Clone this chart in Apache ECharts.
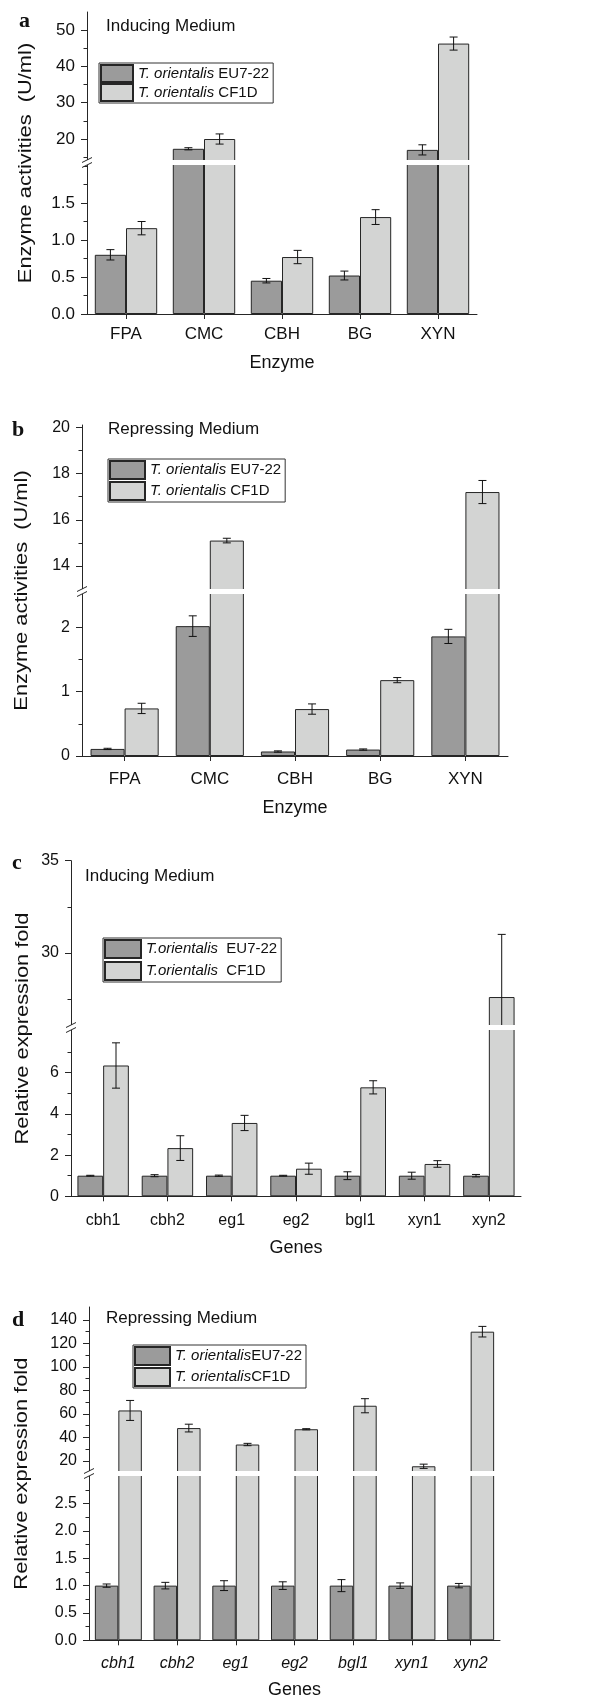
<!DOCTYPE html>
<html><head><meta charset="utf-8">
<script src="https://cdn.jsdelivr.net/npm/echarts@6/dist/echarts.min.js"></script>
<style>html,body{margin:0;padding:0;background:#fff}#chart{width:606px;height:1700px}</style>
</head><body><div id="chart"></div>
<script>
// ---------- DATA ----------
const enzymes = ['FPA', 'CMC', 'CBH', 'BG', 'XYN'];
const genes = ['cbh1', 'cbh2', 'eg1', 'eg2', 'bgl1', 'xyn1', 'xyn2'];

// a: Inducing medium, enzyme activities (U/ml)
const aEU = [0.80, 17.3, 0.45, 0.52, 17.0];
const aEUerr = [0.07, 0.3, 0.03, 0.06, 1.4];
const aCF = [1.16, 20.0, 0.77, 1.31, 46.3];
const aCFerr = [0.09, 1.4, 0.09, 0.10, 1.8];
// b: Repressing medium, enzyme activities (U/ml)
const bEU = [0.11, 2.02, 0.07, 0.10, 1.86];
const bEUerr = [0.01, 0.16, 0.01, 0.01, 0.11];
const bCF = [0.74, 15.1, 0.73, 1.18, 17.2];
const bCFerr = [0.08, 0.1, 0.08, 0.04, 0.5];
// c: Inducing medium, relative expression fold
const cEU = [1.0, 1.0, 1.0, 1.0, 1.0, 1.0, 1.0];
const cEUerr = [0.02, 0.05, 0.03, 0.02, 0.19, 0.17, 0.06];
const cCF = [6.35, 2.34, 3.56, 1.34, 5.29, 1.57, 27.6];
const cCFerr = [1.1, 0.6, 0.37, 0.27, 0.32, 0.16, 3.4];
// d: Repressing medium, relative expression fold
const dEU = [1.0, 1.0, 1.0, 1.0, 1.0, 1.0, 1.0];
const dEUerr = [0.03, 0.06, 0.09, 0.07, 0.11, 0.05, 0.04];
const dCF = [63, 48, 34, 47, 67, 15.5, 130];
const dCFerr = [8.5, 3.3, 1.0, 0.5, 6.0, 1.8, 4.5];

// tick values (upper / lower segment of each broken axis)
const aUpTicks = [20, 30, 40, 50], aUpMinor = [15, 25, 35, 45];
const aLoTicks = [0, 0.5, 1.0, 1.5], aLoMinor = [0.25, 0.75, 1.25, 1.75, 2.0];
const bUpTicks = [14, 16, 18, 20], bUpMinor = [15, 17, 19];
const bLoTicks = [0, 1, 2], bLoMinor = [0.5, 1.5];
const cUpTicks = [30, 35], cUpMinor = [27.5, 32.5];
const cLoTicks = [0, 2, 4, 6], cLoMinor = [1, 3, 5, 7];
const dUpTicks = [20, 40, 60, 80, 100, 120, 140], dUpMinor = [30, 50, 70, 90, 110, 130];
const dLoTicks = [0, 0.5, 1.0, 1.5, 2.0, 2.5], dLoMinor = [0.25, 0.75, 1.25, 1.75, 2.25, 2.75];

// ---------- LAYOUT ----------
const FONT = '"Liberation Sans", Arial, sans-serif';
const SERIF = '"Liberation Serif", "Times New Roman", serif';
const DARK = '#9b9b9b', LIGHT = '#d3d4d3', EDGE = '#262626', INK = '#111';

const panels = [
  { cats: enzymes, italicCats: false,
    series: [{ name: 'T. orientalis EU7-22', v: aEU, e: aEUerr }, { name: 'T. orientalis CF1D', v: aCF, e: aCFerr }],
    up: { ticks: aUpTicks, minor: aUpMinor, dec: 0, top: 12, bottom: 161.5, min: 13.8, max: 55 },
    lo: { ticks: aLoTicks, minor: aLoMinor, dec: 1, top: 163.5, bottom: 314, min: 0, max: 2.034 },
    left: 87, right: 477, tickFont: 17, catFont: 17, catMargin: 12, xname: 'Enzyme', xnameGap: 40,
    yname: 'Enzyme activities  (U/ml)', ynameX: 25.5,
    letter: 'a', letterX: 19, letterY: 21.5, title: 'Inducing Medium', titleX: 106, titleY: 26,
    legend: { left: 99, top: 63, itemWidth: 32, itemHeight: 17, itemGap: 0 } },
  { cats: enzymes, italicCats: false,
    series: [{ name: 'T. orientalis EU7-22', v: bEU, e: bEUerr }, { name: 'T. orientalis CF1D', v: bCF, e: bCFerr }],
    up: { ticks: bUpTicks, minor: bUpMinor, dec: 0, top: 425, bottom: 590.5, min: 12.94, max: 20.1 },
    lo: { ticks: bLoTicks, minor: bLoMinor, dec: 0, top: 592.5, bottom: 756, min: 0, max: 2.543 },
    left: 82, right: 508, tickFont: 16, catFont: 17, catMargin: 15, xname: 'Enzyme', xnameGap: 43,
    yname: 'Enzyme activities  (U/ml)', ynameX: 22,
    letter: 'b', letterX: 12, letterY: 430.5, title: 'Repressing Medium', titleX: 108, titleY: 429,
    legend: { left: 108, top: 459, itemWidth: 35, itemHeight: 18, itemGap: 1 } },
  { cats: genes, italicCats: false,
    series: [{ name: 'T.orientalis  EU7-22', v: cEU, e: cEUerr }, { name: 'T.orientalis  CF1D', v: cCF, e: cCFerr }],
    up: { ticks: cUpTicks, minor: cUpMinor, dec: 0, top: 860.7, bottom: 1026.5, min: 26, max: 35 },
    lo: { ticks: cLoTicks, minor: cLoMinor, dec: 0, top: 1028.5, bottom: 1196.3, min: 0, max: 8.146 },
    left: 71, right: 521, tickFont: 16, catFont: 16, catMargin: 16, xname: 'Genes', xnameGap: 43,
    yname: 'Relative expression fold', ynameX: 23,
    letter: 'c', letterX: 12, letterY: 863.5, title: 'Inducing Medium', titleX: 85, titleY: 876,
    legend: { left: 103, top: 938, itemWidth: 36, itemHeight: 18, itemGap: 2 } },
  { cats: genes, italicCats: true,
    series: [{ name: 'T. orientalisEU7-22', v: dEU, e: dEUerr }, { name: 'T. orientalisCF1D', v: dCF, e: dCFerr }],
    up: { ticks: dUpTicks, minor: dUpMinor, dec: 0, top: 1307, bottom: 1472.5, min: 10.2, max: 151 },
    lo: { ticks: dLoTicks, minor: dLoMinor, dec: 1, top: 1474.5, bottom: 1640.3, min: 0, max: 3.033 },
    left: 89, right: 500, tickFont: 16, catFont: 16, catMargin: 15, xname: 'Genes', xnameGap: 41,
    yname: 'Relative expression fold', ynameX: 21.5,
    letter: 'd', letterX: 12, letterY: 1320.5, title: 'Repressing Medium', titleX: 106, titleY: 1318,
    legend: { left: 133, top: 1345, itemWidth: 35, itemHeight: 18, itemGap: 1 } }
];

function errRender(side) {
  return function (params, api) {
    const i = api.value(0), v = api.value(1), e = api.value(2);
    const band = api.size([1, 0])[0];
    const cx = api.coord([i, v])[0] + side * 0.2 * band;
    const yt = api.coord([i, v + e])[1], yb = api.coord([i, v - e])[1];
    const w = 4, st = { stroke: INK, lineWidth: 1 };
    return { type: 'group', children: [
      { type: 'line', shape: { x1: cx, y1: yt, x2: cx, y2: yb }, style: st },
      { type: 'line', shape: { x1: cx - w, y1: yt, x2: cx + w, y2: yt }, style: st },
      { type: 'line', shape: { x1: cx - w, y1: yb, x2: cx + w, y2: yb }, style: st }
    ] };
  };
}

function legendFmt(name) {
  const k = name.indexOf('orientalis') + 10;
  return '{i|' + name.slice(0, k) + '}{n|' + name.slice(k) + '}';
}

function txt(x, y, text, extra) {
  return Object.assign({ type: 'text', x: x, y: y, z: 200,
    style: Object.assign({ text: text, fill: INK, fontFamily: FONT, fontSize: 17,
      align: 'left', verticalAlign: 'middle', textAlign: 'left', textVerticalAlign: 'middle' }, extra && extra.style) },
    extra && extra.el);
}

const option = { animation: false, backgroundColor: '#fff', grid: [], xAxis: [], yAxis: [], series: [], legend: [], graphic: [] };

panels.forEach(function (p) {
  [['up', p.up], ['lo', p.lo]].forEach(function (pair) {
    const isLo = pair[0] === 'lo', seg = pair[1];
    const g = option.grid.length;
    option.grid.push({ left: p.left, width: p.right - p.left, top: seg.top, height: seg.bottom - seg.top,
      containLabel: false, outerBoundsMode: 'none' });
    option.xAxis.push({ type: 'category', gridIndex: g, data: p.cats, show: isLo, boundaryGap: true,
      axisLine: { show: true, onZero: false, lineStyle: { color: EDGE, width: 1 } },
      axisTick: { show: true, alignWithLabel: true, interval: 0, length: 5, lineStyle: { color: EDGE } },
      axisLabel: { show: true, interval: 0, margin: p.catMargin, fontSize: p.catFont, fontFamily: FONT, color: INK,
        fontStyle: p.italicCats ? 'italic' : 'normal' },
      splitLine: { show: false },
      name: isLo ? p.xname : '', nameLocation: 'middle', nameGap: p.xnameGap,
      nameTextStyle: { fontSize: 18, fontFamily: FONT, color: INK } });
    const yMaj = option.yAxis.length;
    option.yAxis.push({ type: 'value', gridIndex: g, min: seg.min, max: seg.max, position: 'left',
      axisLine: { show: true, onZero: false, lineStyle: { color: EDGE, width: 1 } },
      axisTick: { show: true, length: 6, customValues: seg.ticks, lineStyle: { color: EDGE } },
      axisLabel: { show: true, customValues: seg.ticks, margin: 12, fontSize: p.tickFont, fontFamily: FONT, color: INK,
        formatter: function (v) { return Number(v).toFixed(seg.dec); } },
      splitLine: { show: false } });
    option.yAxis.push({ type: 'value', gridIndex: g, min: seg.min, max: seg.max, position: 'left',
      axisLine: { show: false }, axisLabel: { show: false }, splitLine: { show: false },
      axisTick: { show: true, length: 3.5, customValues: seg.minor, lineStyle: { color: EDGE } } });
    p.series.forEach(function (s, k) {
      option.series.push({ type: 'bar', name: s.name, xAxisIndex: g, yAxisIndex: yMaj, data: s.v,
        barGap: '0%', barCategoryGap: '20%', clip: true,
        itemStyle: { color: k ? LIGHT : DARK, borderColor: EDGE, borderWidth: 1 } });
    });
    p.series.forEach(function (s, k) {
      option.series.push({ type: 'custom', name: s.name + ' error', xAxisIndex: g, yAxisIndex: yMaj, clip: true, z: 3,
        renderItem: errRender(k ? 1 : -1),
        data: s.v.map(function (v, i) { return [i, v, s.e[i]]; }) });
    });
  });

  option.legend.push(Object.assign({ data: p.series.map(function (s) { return s.name; }),
    orient: 'vertical', icon: 'rect', padding: [1, 4, 1, 1], borderColor: '#333', borderWidth: 1, borderRadius: 0,
    selectedMode: false, formatter: legendFmt,
    textStyle: { fontFamily: FONT, fontSize: 15, color: INK,
      rich: { i: { fontStyle: 'italic', fontFamily: FONT, fontSize: 15, color: INK },
              n: { fontFamily: FONT, fontSize: 15, color: INK } } } }, p.legend));

  // break decoration
  const ub = p.up.bottom, lt = p.lo.top;
  option.graphic.push({ type: 'rect', z: 100, shape: { x: p.left - 8, y: ub - 1.5, width: p.right - p.left + 8, height: lt - ub + 3 },
    style: { fill: '#fff' } });
  [ub - 1.5, lt + 1.5].forEach(function (yy) {
    option.graphic.push({ type: 'line', z: 101, shape: { x1: p.left - 5, y1: yy + 2.5, x2: p.left + 5, y2: yy - 2.5 },
      style: { stroke: EDGE, lineWidth: 1 } });
  });
  // texts
  option.graphic.push(txt(p.letterX, p.letterY, p.letter, { style: { fontFamily: SERIF, fontWeight: 'bold', fontSize: 22 } }));
  option.graphic.push(txt(p.titleX, p.titleY, p.title, { style: { fontSize: 17 } }));
  option.graphic.push(txt(p.ynameX, (p.up.top + p.lo.bottom) / 2, p.yname,
    { style: { fontSize: 19, align: 'center', textAlign: 'center' }, el: { rotation: Math.PI / 2, scaleX: 1.15 } }));
});

const chart = echarts.init(document.getElementById('chart'), null, { renderer: 'canvas' });
chart.setOption(option);
</script></body></html>
